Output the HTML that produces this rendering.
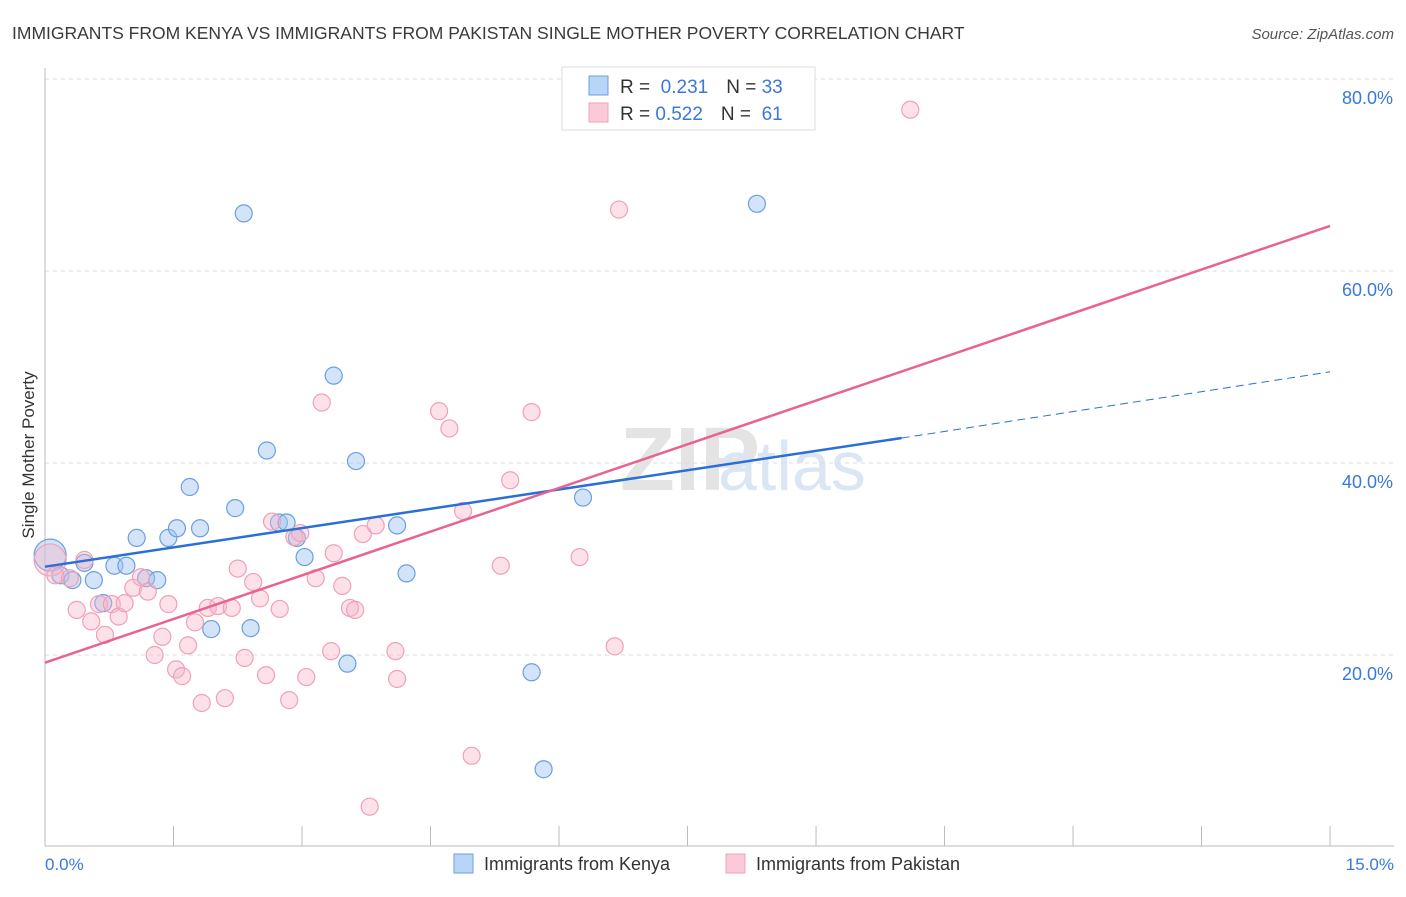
<!DOCTYPE html>
<html><head><meta charset="utf-8"><style>
body{margin:0;background:#fff;font-family:"Liberation Sans",sans-serif;}
svg text{font-family:"Liberation Sans",sans-serif;}
</style></head><body>
<svg width="1406" height="892" id="chart">
<text x="12" y="39" font-size="17.5" fill="#3a3a3a">IMMIGRANTS FROM KENYA VS IMMIGRANTS FROM PAKISTAN SINGLE MOTHER POVERTY CORRELATION CHART</text>
<text x="1394" y="39" font-size="15" fill="#555" font-style="italic" text-anchor="end">Source: ZipAtlas.com</text>
<text x="620" y="490" font-size="90" fill="#e4e4e4" font-family="Liberation Serif" font-weight="bold">ZIP</text>
<text x="718" y="490" font-size="70" fill="#dbe6f5">atlas</text>
<g id="grid"></g>
<line x1="45" y1="68" x2="45" y2="846" stroke="#bbb"/>
<line x1="45" y1="846" x2="1394" y2="846" stroke="#bbb"/>
<g id="xticks"></g>
<text transform="translate(34,455) rotate(-90)" font-size="17" fill="#333" text-anchor="middle">Single Mother Poverty</text>
<text x="45" y="870" font-size="17" fill="#3a78d8">0.0%</text>
<text x="1394" y="870" font-size="17" fill="#3a78d8" text-anchor="end">15.0%</text>
<g id="points"></g>
<g id="lines"></g>
<g>
<rect x="562" y="67" width="253" height="63" fill="#fff" stroke="#ddd"/>
<rect x="589" y="76" width="19" height="19" fill="#b8d4f6" stroke="#6a9fe0"/>
<rect x="589" y="103" width="19" height="19" fill="#fbcad8" stroke="#f0a0b8"/>
<text x="620" y="93" font-size="19" fill="#333">R = <tspan fill="#3a78d8">&#160;0.231</tspan><tspan dx="18">N = </tspan><tspan fill="#3a78d8">33</tspan></text>
<text x="620" y="120" font-size="19" fill="#333">R = <tspan fill="#3a78d8">0.522</tspan><tspan dx="18">N = </tspan><tspan fill="#3a78d8">&#160;61</tspan></text>
</g>
<g>
<rect x="454" y="854" width="19" height="19" fill="#b8d4f6" stroke="#6a9fe0"/>
<text x="484" y="870" font-size="18" fill="#333">Immigrants from Kenya</text>
<rect x="726" y="854" width="19" height="19" fill="#fbcad8" stroke="#f0a0b8"/>
<text x="756" y="870" font-size="18" fill="#333">Immigrants from Pakistan</text>
</g>
</svg>
<script>
const yTicks=[20,40,60,80];
const yTickLabels=["20.0%","40.0%","60.0%","80.0%"];
const xTicks=[1.5,3,4.5,6,7.5,9,10.5,12,13.5,15];
const kenyaX=[0.06,0.18,0.32,0.46,0.57,0.68,0.81,0.95,1.07,1.18,1.31,1.44,1.54,1.69,1.81,1.94,2.22,2.32,2.40,2.59,2.73,2.82,2.94,3.03,3.37,3.53,3.63,4.11,4.22,5.68,5.82,6.28,8.31];
const kenyaY=[30.4,28.3,27.8,29.6,27.8,25.4,29.3,29.3,32.2,28.0,27.8,32.2,33.2,37.5,33.2,22.7,35.3,66.0,22.8,41.3,33.8,33.8,32.2,30.2,49.1,19.1,40.2,33.5,28.5,18.2,8.1,36.4,67.0];
const pakX=[0.06,0.12,0.29,0.46,0.37,0.54,0.63,0.70,0.78,0.86,0.93,1.03,1.12,1.20,1.28,1.37,1.44,1.53,1.60,1.67,1.75,1.83,1.90,2.02,2.10,2.18,2.25,2.33,2.43,2.51,2.58,2.65,2.74,2.85,2.91,2.98,3.05,3.16,3.23,3.34,3.37,3.47,3.56,3.62,3.71,3.86,3.79,4.09,4.11,4.60,4.72,4.88,4.98,5.32,5.43,5.68,6.24,6.65,6.70,10.10];
const pakY=[29.9,28.3,28.0,29.9,24.7,23.5,25.3,22.1,25.3,24.0,25.4,27.0,28.1,26.6,20.0,21.9,25.3,18.5,17.8,21.0,23.4,15.0,24.9,25.1,15.5,24.9,29.0,19.7,27.6,25.9,17.9,33.9,24.8,15.3,32.3,32.7,17.7,28.0,46.3,20.4,30.6,27.2,24.9,24.7,32.6,33.5,4.2,20.4,17.5,45.4,43.6,35.0,9.5,29.3,38.2,45.3,30.2,20.9,66.4,76.8];
const kenyaTrend=[29.2,42.6,49.5]; // y at x=0, 10, 15
const pakTrend=[19.2,64.7]; // y at x=0, 15
const NS="http://www.w3.org/2000/svg";
const sx=v=>45+v*85.67, sy=v=>847-v*9.6;
function mk(tag,attrs,parent){const e=document.createElementNS(NS,tag);for(const k in attrs)e.setAttribute(k,attrs[k]);document.getElementById(parent).appendChild(e);return e;}
yTicks.forEach((t,i)=>{
 const l=mk('line',{x1:45,x2:1394,y1:sy(t),y2:sy(t),stroke:'#ddd','stroke-dasharray':'4,4'},'grid');
 
 
 const tx=mk('text',{x:1393,y:sy(t)+25,'font-size':18,fill:'#3a78d8','text-anchor':'end'},'grid');
 tx.textContent=yTickLabels[i];
 
 
});
xTicks.forEach(t=>{
 const l=mk('line',{x1:sx(t),x2:sx(t),y1:826,y2:846,stroke:'#bbb'},'xticks');
 
 
});
kenyaX.forEach((x,i)=>{
 const c=mk('circle',{cx:sx(x),cy:sy(kenyaY[i]),r:i==0?16:8.5,fill:'rgba(160,196,240,0.45)',stroke:'#6a9fe0','stroke-width':1.2},'points');
 
 
});
pakX.forEach((x,i)=>{
 const c=mk('circle',{cx:sx(x),cy:sy(pakY[i]),r:i==0?16:8.5,fill:'rgba(248,180,200,0.4)',stroke:'#f0a0b8','stroke-width':1.2},'points');
 
 
});
let l1=mk('line',{x1:sx(0),y1:sy(kenyaTrend[0]),x2:sx(10),y2:sy(kenyaTrend[1]),stroke:'#2a6fd6','stroke-width':2.5},'lines');


let l2=mk('line',{x1:sx(10),y1:sy(kenyaTrend[1]),x2:sx(15),y2:sy(kenyaTrend[2]),stroke:'#2a6fd6','stroke-width':1,'stroke-dasharray':'8,5'},'lines');


let l3=mk('line',{x1:sx(0),y1:sy(pakTrend[0]),x2:sx(15),y2:sy(pakTrend[1]),stroke:'#e8648e','stroke-width':2.5},'lines');


</script>
</body></html>
